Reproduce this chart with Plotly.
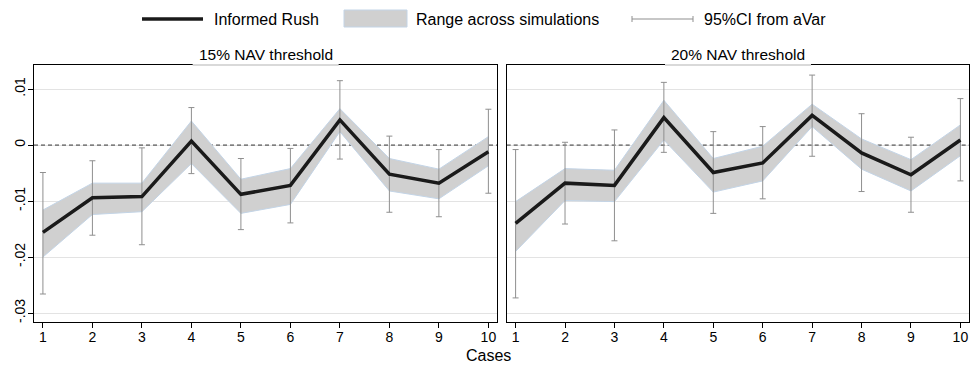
import plotly.graph_objects as go

# Cases on the horizontal axis
cases = [1, 2, 3, 4, 5, 6, 7, 8, 9, 10]

# 15% NAV threshold
rush_15 = [-0.0156, -0.0094, -0.0092, 0.0007, -0.0088, -0.0072, 0.0045, -0.0052, -0.0068, -0.0012]
sim_lo_15 = [-0.0200, -0.0124, -0.0119, -0.0033, -0.0122, -0.0106, 0.0024, -0.0082, -0.0096, -0.0037]
sim_hi_15 = [-0.0116, -0.0068, -0.0068, 0.0043, -0.0061, -0.0042, 0.0065, -0.0024, -0.0043, 0.0015]
ci_lo_15 = [-0.0266, -0.0161, -0.0178, -0.0051, -0.0151, -0.0139, -0.0025, -0.0120, -0.0128, -0.0086]
ci_hi_15 = [-0.0049, -0.0028, -0.0005, 0.0067, -0.0024, -0.0006, 0.0115, 0.0016, -0.0008, 0.0064]

# 20% NAV threshold
rush_20 = [-0.0140, -0.0068, -0.0072, 0.0049, -0.0049, -0.0032, 0.0053, -0.0014, -0.0053, 0.0009]
sim_lo_20 = [-0.0190, -0.0099, -0.0101, 0.0009, -0.0084, -0.0064, 0.0033, -0.0043, -0.0082, -0.0019]
sim_hi_20 = [-0.0101, -0.0042, -0.0045, 0.0080, -0.0024, -0.0002, 0.0073, 0.0011, -0.0026, 0.0036]
ci_lo_20 = [-0.0273, -0.0141, -0.0171, -0.0013, -0.0122, -0.0096, -0.0020, -0.0083, -0.0120, -0.0064]
ci_hi_20 = [-0.0008, 0.0005, 0.0027, 0.0112, 0.0024, 0.0033, 0.0125, 0.0056, 0.0014, 0.0083]

panel_titles = ["15% NAV threshold", "20% NAV threshold"]
y_tickvals = [0.01, 0.0, -0.01, -0.02, -0.03]
y_ticktext = [".01", "0", "-.01", "-.02", "-.03"]

W, H = 977, 365
FONT = "Liberation Sans, Arial, sans-serif"
LINE_C = "#1a1a1a"
BAND_C = "#d0d0d0"
BAND_EDGE = "#c3d4e6"
CI_C = "#8f8f8f"
GRID_C = "#e3e3e3"
X_RANGE = [0.82, 10.18]
Y_RANGE = [-0.0316, 0.0143]


def px(x):
    return x / W


def py(y):
    return 1 - y / H


fig = go.Figure()

panels = [
    (rush_15, sim_lo_15, sim_hi_15, ci_lo_15, ci_hi_15, "x", "y"),
    (rush_20, sim_lo_20, sim_hi_20, ci_lo_20, ci_hi_20, "x2", "y2"),
]

for rush, lo, hi, cl, ch, xa, ya in panels:
    # dashed zero reference across the panel
    fig.add_trace(go.Scatter(
        x=X_RANGE, y=[0, 0], mode="lines",
        line=dict(color="#333333", width=1, dash="4px,3px"),
        hoverinfo="skip", showlegend=False, xaxis=xa, yaxis=ya))
    # range across simulations (closed polygon)
    fig.add_trace(go.Scatter(
        x=cases + cases[::-1], y=hi + lo[::-1], fill="toself",
        fillcolor=BAND_C, mode="lines", line=dict(color=BAND_EDGE, width=1),
        hoverinfo="skip", showlegend=False, xaxis=xa, yaxis=ya))
    # 95% CI caps
    fig.add_trace(go.Scatter(
        x=cases, y=rush, mode="markers",
        marker=dict(size=1, color="rgba(0,0,0,0)"),
        error_y=dict(type="data", symmetric=False,
                     array=[h - r for h, r in zip(ch, rush)],
                     arrayminus=[r - l for r, l in zip(rush, cl)],
                     color=CI_C, thickness=1, width=3),
        showlegend=False, xaxis=xa, yaxis=ya))
    # informed rush
    fig.add_trace(go.Scatter(
        x=cases, y=rush, mode="lines", line=dict(color=LINE_C, width=3.5),
        showlegend=False, xaxis=xa, yaxis=ya))

# panel geometry (pixels)
top, bottom = 65, 322
left_panel = (34, 497.3)
right_panel = (506.7, 969.3)

xaxis_common = dict(
    range=X_RANGE, tickmode="array", tickvals=cases,
    ticktext=[str(c) for c in cases], ticks="outside", ticklen=5,
    tickcolor="black", showline=True, linecolor="black", linewidth=1,
    mirror=True, showgrid=False, zeroline=False, ticklabelstandoff=-3,
    tickfont=dict(family=FONT, size=14, color="black"))
yaxis_common = dict(
    range=Y_RANGE, tickmode="array", tickvals=y_tickvals,
    ticktext=y_ticktext, showline=True, linecolor="black", linewidth=1,
    mirror=True, showgrid=True, gridcolor=GRID_C, gridwidth=1,
    zeroline=False, domain=[py(bottom), py(top)])

fig.update_layout(
    width=W, height=H, margin=dict(l=0, r=0, t=0, b=0),
    paper_bgcolor="white", plot_bgcolor="white",
    font=dict(family=FONT, size=16, color="black"),
    xaxis=dict(xaxis_common, domain=[px(left_panel[0]), px(left_panel[1])], anchor="y"),
    xaxis2=dict(xaxis_common, domain=[px(right_panel[0]), px(right_panel[1])], anchor="y2"),
    yaxis=dict(yaxis_common, anchor="x", ticks="outside", ticklen=5, tickcolor="black",
               tickangle=-90, ticklabelstandoff=-3,
               tickfont=dict(family=FONT, size=14, color="black")),
    yaxis2=dict(yaxis_common, anchor="x2", ticks="", showticklabels=False),
)

shapes = []
annotations = []

for (l, r), title in [(left_panel, panel_titles[0]), (right_panel, panel_titles[1])]:
    c = (l + r) / 2
    # title box bottom edge on the frame
    shapes.append(dict(type="line", xref="paper", yref="paper",
                       x0=px(c - 73), x1=px(c + 73), y0=py(top), y1=py(top),
                       line=dict(color="#d9d9d9", width=2), layer="above"))
    annotations.append(dict(text=title, xref="paper", yref="paper", x=px(c), y=py(54),
                            xanchor="center", yanchor="middle", showarrow=False,
                            font=dict(family=FONT, size=15.5, color="black")))

# x-axis title
annotations.append(dict(text="Cases", xref="paper", yref="paper", x=px(489), y=py(355),
                        xanchor="center", yanchor="middle", showarrow=False,
                        font=dict(family=FONT, size=16, color="black")))

# legend
ly = 19
shapes.append(dict(type="line", xref="paper", yref="paper", x0=px(142), x1=px(203),
                   y0=py(ly), y1=py(ly), line=dict(color=LINE_C, width=3.5), layer="above"))
annotations.append(dict(text="Informed Rush", xref="paper", yref="paper", x=px(212), y=py(ly),
                        xanchor="left", yanchor="middle", showarrow=False))
shapes.append(dict(type="rect", xref="paper", yref="paper", x0=px(344), x1=px(407),
                   y0=py(27), y1=py(10), fillcolor=BAND_C,
                   line=dict(color=BAND_EDGE, width=1), layer="above"))
annotations.append(dict(text="Range across simulations", xref="paper", yref="paper", x=px(414),
                        y=py(ly), xanchor="left", yanchor="middle", showarrow=False))
shapes.append(dict(type="line", xref="paper", yref="paper", x0=px(632), x1=px(693),
                   y0=py(ly), y1=py(ly), line=dict(color=CI_C, width=1), layer="above"))
for xc in (632, 693):
    shapes.append(dict(type="line", xref="paper", yref="paper", x0=px(xc), x1=px(xc),
                       y0=py(ly - 3), y1=py(ly + 3), line=dict(color=CI_C, width=1),
                       layer="above"))
annotations.append(dict(text="95%CI from aVar", xref="paper", yref="paper", x=px(702), y=py(ly),
                        xanchor="left", yanchor="middle", showarrow=False))

fig.update_layout(shapes=shapes, annotations=annotations)

fig.write_html("out.html")
